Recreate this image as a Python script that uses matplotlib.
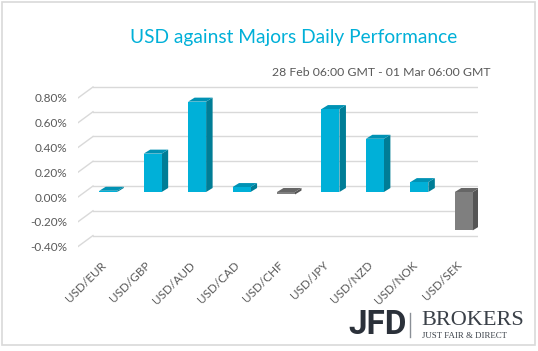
import matplotlib
matplotlib.use("Agg")
import matplotlib.pyplot as plt
from matplotlib.patches import Polygon, Rectangle
from matplotlib.lines import Line2D

pairs = ["USD/EUR", "USD/GBP", "USD/AUD", "USD/CAD", "USD/CHF",
         "USD/JPY", "USD/NZD", "USD/NOK", "USD/SEK"]
change = [0.01, 0.31, 0.73, 0.04, -0.02, 0.67, 0.43, 0.08, -0.31]
yticks = [-0.4, -0.2, 0.0, 0.2, 0.4, 0.6, 0.8]

plt.rcParams["font.family"] = ["Lato", "DejaVu Sans"]

W, H = 538, 351
fig = plt.figure(figsize=(W / 100, H / 100), dpi=100)
ax = fig.add_axes([78 / W, (H - 255.2) / H, 400 / W, 175.8 / H])
ax.set_xlim(-0.5, 8.5)
ax.set_ylim(-0.47, 0.95)

# pixel -> data units (for the fake 3d depth)
px = 9 / 400
py = 1.42 / 175.8
back_dx, back_dy = 15 * px, 11 * py
front_dx, front_dy = 8 * px, 5 * py
depth_dx, depth_dy = 6.5 * px, 4 * py

grid_c = "#D9D9D9"
for v in yticks:
    ax.plot([-0.5 + back_dx, 8.5 + back_dx], [v + back_dy, v + back_dy],
            color=grid_c, lw=1, zorder=1)
    ax.plot([-0.5, -0.5 + back_dx], [v, v + back_dy], color=grid_c, lw=1, zorder=1)

xs = list(range(len(pairs)))
bw = 18 * px
for x, val in zip(xs, change):
    if val >= 0:
        face, side, top = "#00B0D8", "#007D96", "#0092B4"
    else:
        face, side, top = "#7F7F7F", "#555555", "#666666"
    x0 = x - bw / 2 + front_dx
    x1 = x0 + bw
    y0 = front_dy
    y1 = val + front_dy
    hi = max(y0, y1)
    lo = min(y0, y1)
    ax.add_patch(Polygon([(x1, lo), (x1 + depth_dx, lo + depth_dy),
                          (x1 + depth_dx, hi + depth_dy), (x1, hi)],
                         closed=True, fc=side, ec="none", zorder=3))
    ax.add_patch(Polygon([(x0, hi), (x1, hi), (x1 + depth_dx, hi + depth_dy),
                          (x0 + depth_dx, hi + depth_dy)],
                         closed=True, fc=top, ec="none", zorder=3))
    ax.add_patch(Rectangle((x0, lo), bw, hi - lo, fc=face, ec="none", zorder=4))

ax.set_yticks(yticks)
ax.set_yticklabels([f"{v:.2f}%" for v in yticks], fontsize=8.5, color="#595959")
ax.set_xticks(xs)
ax.set_xticklabels(pairs, rotation=45, ha="right", va="top",
                   rotation_mode="anchor", fontsize=8.5, color="#595959")
ax.tick_params(length=0)
ax.tick_params(axis="y", pad=8)
ax.tick_params(axis="x", pad=3)
for s in ax.spines.values():
    s.set_visible(False)
ax.patch.set_visible(False)

fig.text(293.5 / W, 1 - 38 / H, "USD against Majors Daily Performance",
         ha="center", va="center", fontsize=13.8, color="#00B0D8")
fig.text(491 / W, 1 - 73 / H, "28 Feb 06:00 GMT - 01 Mar 06:00 GMT",
         ha="right", va="center", fontsize=8.8, color="#595959")

# logo
fig.text(348 / W, 1 - 325 / H, "JFD", ha="left", va="center", fontsize=24,
         fontweight="bold", color="#2B313A", family="Roboto")
fig.add_artist(Line2D([410 / W, 410 / W], [1 - 337 / H, 1 - 313 / H],
                      color="#8A8F96", lw=1))
fig.text(421 / W, 1 - 320.5 / H, "BROKERS", ha="left", va="center", fontsize=16,
         color="#3A4048", family="Liberation Serif")
fig.text(422 / W, 1 - 336 / H, "JUST FAIR & DIRECT", ha="left", va="center",
         fontsize=6.4, color="#3A4048", family="Liberation Serif")

# frame
fig.add_artist(Rectangle((2 / W, 6 / H), 533 / W, 343 / H, fill=False,
                         ec="#D9D9D9", lw=1.2, transform=fig.transFigure))

fig.savefig("out.png", dpi=100)
